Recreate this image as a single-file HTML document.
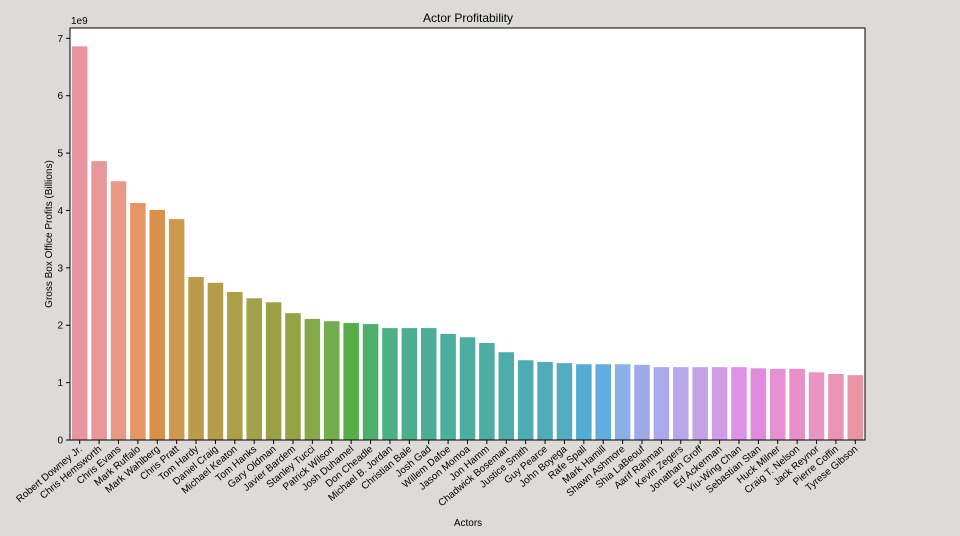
<!DOCTYPE html>
<html><head><meta charset="utf-8"><style>
body{margin:0;background:#dddbd7;}
svg{display:block;font-family:"Liberation Sans","DejaVu Sans",sans-serif;}
</style></head><body>
<svg id="chart" width="960" height="536">
<rect x="0" y="0" width="960" height="536" fill="#dddbd7"/>
<rect x="70" y="28" width="795" height="412" fill="#ffffff"/>
<text x="468" y="22" font-size="12" text-anchor="middle">Actor Profitability</text>
<text x="71" y="24" font-size="10">1e9</text>
<text x="468" y="526" font-size="10" text-anchor="middle">Actors</text>
<text transform="translate(52,234) rotate(-90)" font-size="10" text-anchor="middle">Gross Box Office Profits (Billions)</text>
<g id="bars"></g><g id="yticks"></g><g id="xticks"></g>
<rect x="70" y="28" width="795" height="412" fill="none" stroke="#000" stroke-width="1"/>
</svg>
<script>
const actors=["Robert Downey Jr.","Chris Hemsworth","Chris Evans","Mark Ruffalo","Mark Wahlberg","Chris Pratt","Tom Hardy","Daniel Craig","Michael Keaton","Tom Hanks","Gary Oldman","Javier Bardem","Stanley Tucci","Patrick Wilson","Josh Duhamel","Don Cheadle","Michael B. Jordan","Christian Bale","Josh Gad","Willem Dafoe","Jason Momoa","Jon Hamm","Chadwick Boseman","Justice Smith","Guy Pearce","John Boyega","Rafe Spall","Mark Hamill","Shawn Ashmore","Shia LaBeouf","Aarif Rahman","Kevin Zegers","Jonathan Groff","Ed Ackerman","Yiu-Wing Chan","Sebastian Stan","Huck Milner","Craig T. Nelson","Jack Reynor","Pierre Coffin","Tyrese Gibson"];
const profits=[6.86,4.86,4.51,4.13,4.01,3.85,2.84,2.74,2.58,2.47,2.40,2.21,2.11,2.07,2.04,2.02,1.95,1.95,1.95,1.85,1.79,1.69,1.53,1.39,1.36,1.34,1.32,1.32,1.32,1.31,1.27,1.27,1.27,1.27,1.27,1.25,1.24,1.24,1.18,1.15,1.13];
const yTicks=[0,1,2,3,4,5,6,7];
const palette=["#e8959f","#e8979a","#e89a86","#e89566","#d9904b","#cc994f","#bb9b4a","#b59c4a","#ac9f4a","#a3a14a","#9aa145","#94a345","#85a946","#74ad4d","#55ae47","#4daf6c","#4cb285","#4cb090","#4cae95","#4cae9c","#4cada0","#4cada5","#4dadab","#4eacb2","#50acb9","#53acc2","#55acd2","#62ade0","#8ab0e6","#9eaae8","#aaa9ec","#b9a6ec","#c5a2e6","#d39ce8","#de92e6","#e48ade","#e78fd3","#e78fc9","#e796c2","#e795b5","#e896a6"];
const NS="http://www.w3.org/2000/svg";
const L=70,R=865,B=440,T=28;
const yMax=7.18;
function y(v){return B-(v/yMax)*(B-T);}
const band=(R-L)/actors.length;
function x(i){return L+band*i;}
const bars=document.getElementById('bars'),yt=document.getElementById('yticks'),xt=document.getElementById('xticks');
actors.forEach((a,i)=>{
 const r=document.createElementNS(NS,'rect');
 const bw=band*0.8;
 r.setAttribute('x',x(i)+band*0.1);r.setAttribute('width',bw);
 r.setAttribute('y',y(profits[i]));r.setAttribute('height',B-y(profits[i]));
 r.setAttribute('fill',palette[i%palette.length]);
 
 
 bars.appendChild(r);
 const cx=x(i)+band/2;
 const tk=document.createElementNS(NS,'line');
 tk.setAttribute('x1',cx);tk.setAttribute('x2',cx);tk.setAttribute('y1',B);tk.setAttribute('y2',B+4);tk.setAttribute('stroke','#000');
 
 
 xt.appendChild(tk);
 const t=document.createElementNS(NS,'text');
 t.setAttribute('transform','translate('+(cx+3)+','+(B+10)+') rotate(-40)');
 t.setAttribute('text-anchor','end');t.setAttribute('font-size','10');
 t.textContent=a;
 
 
 xt.appendChild(t);
});
yTicks.forEach(v=>{
 const tk=document.createElementNS(NS,'line');
 tk.setAttribute('x1',L-4);tk.setAttribute('x2',L);tk.setAttribute('y1',y(v));tk.setAttribute('y2',y(v));tk.setAttribute('stroke','#000');
 
 
 yt.appendChild(tk);
 const t=document.createElementNS(NS,'text');
 t.setAttribute('x',L-7);t.setAttribute('y',y(v)+3.5);t.setAttribute('text-anchor','end');t.setAttribute('font-size','10');
 t.textContent=v;
 
 
 yt.appendChild(t);
});
</script>
</body></html>
